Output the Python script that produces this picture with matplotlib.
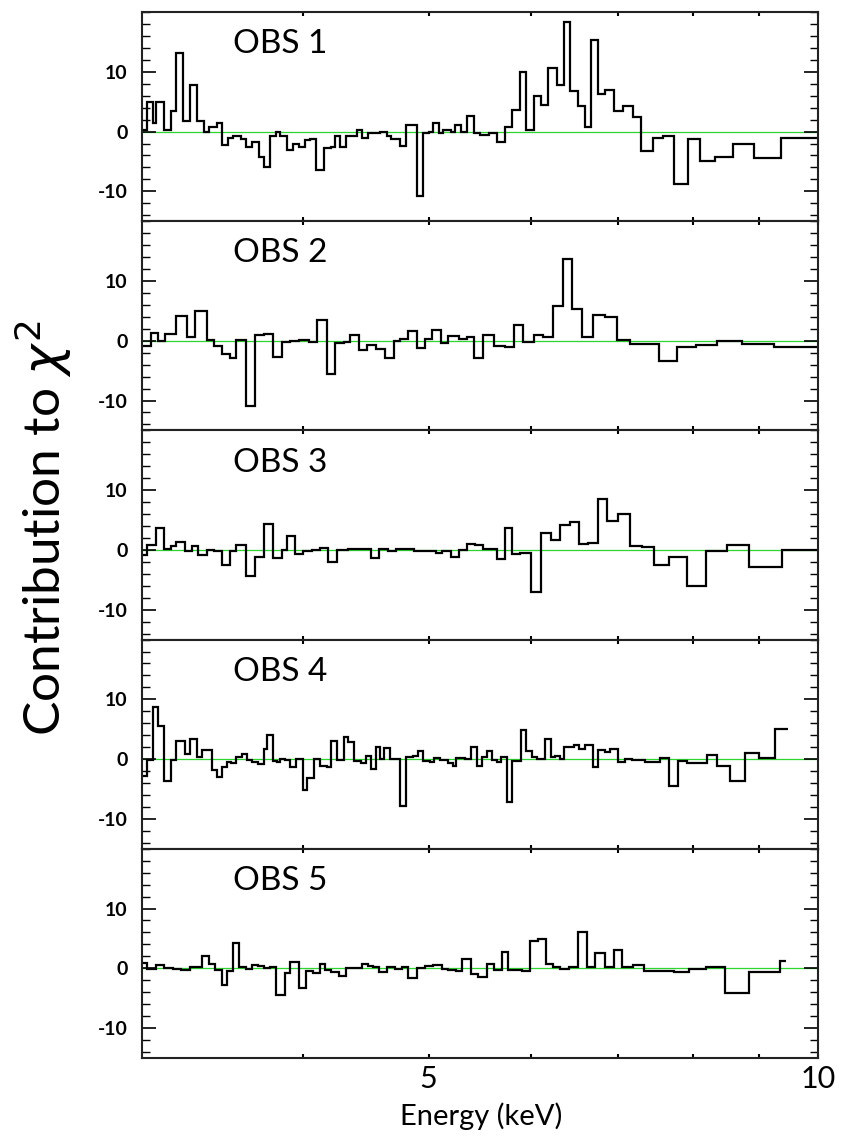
import matplotlib.pyplot as plt
from matplotlib.ticker import MultipleLocator, NullFormatter

plt.rcParams['font.family'] = ['Lato', 'DejaVu Sans']

obs_names = ['OBS 1', 'OBS 2', 'OBS 3', 'OBS 4', 'OBS 5']

# bin edges (keV) and contribution to chi^2
edges1 = [3.01, 3.03, 3.06, 3.08, 3.12, 3.16, 3.19, 3.23, 3.27, 3.31,
          3.35, 3.38, 3.43, 3.46, 3.50, 3.53, 3.58, 3.61, 3.65, 3.70,
          3.73, 3.77, 3.81, 3.84, 3.89, 3.93, 3.97, 4.01, 4.05, 4.09,
          4.15, 4.20, 4.23, 4.27, 4.32, 4.40, 4.44, 4.49, 4.53, 4.59,
          4.64, 4.68, 4.75, 4.80, 4.90, 4.95, 5.00, 5.04, 5.09, 5.13,
          5.20, 5.24, 5.30, 5.35, 5.42, 5.48, 5.57, 5.65, 5.73, 5.80,
          5.88, 5.95, 6.03, 6.11, 6.19, 6.28, 6.36, 6.43, 6.52, 6.61,
          6.68, 6.76, 6.85, 6.96, 7.07, 7.19, 7.30, 7.45, 7.59, 7.74,
          7.93, 8.10, 8.33, 8.60, 8.92, 9.36, 9.99]
chi1 = [0.2, 4.9, 1.4, 5.0, 0.2, 3.4, 13.2, 1.8, 7.8, 1.8,
        0.0, 0.8, 1.5, -2.3, -1.1, -0.7, -1.3, -2.5, -1.8, -4.2,
        -5.9, -0.8, 0.0, -0.8, -3.1, -2.0, -2.5, -1.4, -1.3, -6.4,
        -2.8, -2.5, -0.8, -2.5, -0.8, 0.2, -1.0, -0.2, -0.3, -0.1,
        -0.8, -1.3, -2.4, 1.1, -10.8, -0.2, 0.0, 1.5, -0.2, 0.3,
        0.0, 1.1, 0.0, 2.6, -0.2, -0.5, -0.2, -1.7, 0.8, 3.6,
        9.9, 0.2, 5.9, 4.5, 10.6, 7.8, 18.3, 6.8, 4.2, 0.8,
        15.4, 6.3, 6.9, 3.4, 4.3, 2.5, -3.2, -1.0, -0.8, -8.7,
        -1.3, -4.9, -4.2, -2.1, -4.5, -1.0]

edges2 = [3.01, 3.05, 3.09, 3.13, 3.19, 3.25, 3.30, 3.37, 3.41, 3.46,
          3.51, 3.55, 3.61, 3.67, 3.73, 3.79, 3.85, 3.91, 3.97, 4.04,
          4.10, 4.17, 4.23, 4.30, 4.35, 4.42, 4.48, 4.55, 4.63, 4.70,
          4.75, 4.82, 4.90, 4.97, 5.03, 5.11, 5.18, 5.28, 5.35, 5.42,
          5.51, 5.62, 5.73, 5.82, 5.92, 6.03, 6.13, 6.24, 6.35, 6.46,
          6.57, 6.70, 6.85, 6.99, 7.16, 7.54, 7.78, 8.05, 8.36, 8.73,
          9.25, 9.99]
chi2 = [-0.9, 1.3, -0.1, 1.1, 4.1, 0.6, 5.0, 0.2, -0.8, -2.2,
        -2.9, 0.2, -10.9, 1.0, 1.1, -2.8, -0.2, -0.1, 0.2, -0.2,
        3.4, -5.6, -0.3, -0.2, 1.0, -1.5, -0.7, -1.3, -2.9, -0.1,
        0.3, 1.7, -1.2, 0.3, 1.8, -0.3, 0.8, 0.3, 0.6, -2.9,
        0.9, -0.9, -1.1, 2.6, -0.2, 0.9, 0.6, 5.8, 13.7, 5.3,
        0.7, 4.3, 4.0, 0.2, -0.6, -3.4, -1.1, -0.7, -0.1, -0.6,
        -1.1]

edges3 = [3.01, 3.03, 3.08, 3.12, 3.16, 3.19, 3.24, 3.28, 3.32, 3.37,
          3.41, 3.46, 3.51, 3.55, 3.61, 3.67, 3.73, 3.79, 3.85, 3.89,
          3.94, 4.00, 4.06, 4.12, 4.18, 4.25, 4.33, 4.44, 4.51, 4.58,
          4.65, 4.72, 4.87, 4.92, 5.00, 5.07, 5.12, 5.20, 5.28, 5.35,
          5.43, 5.51, 5.65, 5.73, 5.80, 5.88, 6.00, 6.11, 6.22, 6.32,
          6.43, 6.54, 6.64, 6.76, 6.87, 7.01, 7.16, 7.31, 7.47, 7.67,
          7.92, 8.20, 8.50, 8.85, 9.38, 9.99]
chi3 = [-0.9, 0.9, 3.7, 0.1, 0.7, 1.4, -0.1, 0.6, -0.8, 0.0,
        -0.1, -2.6, -0.1, 0.8, -4.3, -1.1, 4.4, -1.4, 0.0, 2.3,
        -0.6, -0.1, 0.0, 0.4, -2.0, 0.0, 0.1, 0.2, -1.3, 0.2,
        -0.2, 0.2, -0.2, -0.1, -0.2, -0.5, -0.2, -1.1, 0.0, 1.0,
        0.8, 0.1, -1.5, 3.6, -0.7, -0.5, -7.1, 2.8, 1.6, 4.2,
        4.7, 1.0, 1.2, 8.5, 4.9, 6.0, 0.7, 0.5, -2.5, -1.1,
        -6.1, -0.1, 0.8, -2.8, 0.0]

edges4 = [3.01, 3.03, 3.06, 3.09, 3.12, 3.16, 3.19, 3.24, 3.27, 3.31,
          3.34, 3.40, 3.43, 3.46, 3.49, 3.52, 3.55, 3.59, 3.62, 3.65,
          3.69, 3.73, 3.75, 3.79, 3.82, 3.84, 3.87, 3.91, 3.95, 4.00,
          4.03, 4.08, 4.12, 4.17, 4.20, 4.25, 4.30, 4.33, 4.38, 4.43,
          4.47, 4.51, 4.55, 4.59, 4.62, 4.67, 4.71, 4.75, 4.80, 4.86,
          4.91, 4.95, 5.01, 5.05, 5.10, 5.18, 5.22, 5.25, 5.34, 5.39,
          5.45, 5.50, 5.55, 5.60, 5.65, 5.69, 5.75, 5.80, 5.89, 5.95,
          6.01, 6.07, 6.15, 6.22, 6.26, 6.32, 6.36, 6.48, 6.54, 6.61,
          6.70, 6.76, 6.84, 6.91, 7.01, 7.09, 7.18, 7.26, 7.35, 7.55,
          7.67, 7.79, 7.92, 8.03, 8.21, 8.36, 8.55, 8.78, 9.00, 9.27,
          9.48]
chi4 = [-2.8, -0.2, 8.8, 5.5, -3.7, -0.1, 3.0, 0.9, 3.3, 0.4,
        1.5, -1.8, -3.0, -1.3, -0.4, -0.7, 0.3, 0.9, -0.1, -0.4,
        -0.8, 1.7, 4.0, -0.3, -0.5, 0.1, -0.2, -1.4, 0.1, -5.2,
        -3.2, 0.0, -1.1, -1.3, 3.0, -0.2, 3.7, 2.8, -0.3, -0.6,
        0.6, -1.7, 2.0, 0.0, 1.8, 0.0, 0.1, -7.9, 0.4, 0.6,
        1.3, -0.3, -0.4, 0.2, -0.1, -0.6, -1.2, 0.2, 0.0, 2.1,
        -1.1, 0.3, 1.3, -0.2, -0.4, 0.3, -7.1, -0.3, 4.9, 1.3,
        0.4, 0.1, 3.4, 0.3, 0.6, 0.0, 2.0, 2.3, 1.7, 2.3,
        -1.3, 1.6, 1.2, 1.7, -0.4, 0.1, -0.1, -0.2, -0.4, 0.2,
        -4.5, -0.3, -0.6, -0.7, 0.7, -1.1, -3.6, 1.1, 0.2, 5.0]

edges5 = [3.00, 3.03, 3.08, 3.12, 3.17, 3.22, 3.27, 3.34, 3.38, 3.42,
          3.46, 3.49, 3.53, 3.57, 3.61, 3.65, 3.69, 3.73, 3.77, 3.81,
          3.87, 3.91, 3.97, 4.02, 4.07, 4.12, 4.16, 4.20, 4.26, 4.32,
          4.39, 4.44, 4.49, 4.53, 4.58, 4.64, 4.71, 4.77, 4.82, 4.90,
          4.97, 5.04, 5.12, 5.18, 5.25, 5.31, 5.39, 5.46, 5.55, 5.62,
          5.70, 5.76, 5.82, 5.91, 5.99, 6.08, 6.16, 6.24, 6.32, 6.42,
          6.52, 6.63, 6.72, 6.84, 6.95, 7.06, 7.20, 7.34, 7.55, 7.74,
          7.95, 8.19, 8.47, 8.85, 9.35, 9.44]
chi5 = [0.9, -0.1, 0.6, 0.0, -0.1, -0.2, 0.3, 2.0, 0.8, -0.3,
        -2.8, -0.4, 4.2, 0.3, -0.1, 0.6, 0.4, 0.1, 0.3, -4.4,
        -0.8, 1.1, -3.3, -0.4, -0.8, 0.7, -0.2, -0.6, -1.3, 0.1,
        0.0, 0.7, 0.4, 0.2, -0.6, 0.2, -0.1, 0.2, -1.7, 0.1,
        0.4, 0.6, -0.1, -0.2, -0.4, 1.6, -1.0, -1.5, 0.8, -0.2,
        2.7, -0.3, -0.2, -0.5, 4.5, 4.9, 0.7, 0.3, -0.1, 0.3,
        6.1, 0.3, 2.5, 0.3, 3.1, 0.2, 0.6, -0.4, -0.5, -0.6,
        -0.1, 0.3, -4.1, -0.7, 1.2]

all_edges = [edges1, edges2, edges3, edges4, edges5]
all_chi = [chi1, chi2, chi3, chi4, chi5]

fig, axes = plt.subplots(5, 1, sharex=True, figsize=(8.45, 11.36), dpi=100)
fig.subplots_adjust(left=0.1675, right=0.968, bottom=0.0687, top=0.9894, hspace=0)

for ax, name, e, c in zip(axes, obs_names, all_edges, all_chi):
    ax.axhline(0, color='#2ed52e', lw=0.9, zorder=1)
    ax.stairs(c, e, baseline=None, color='black', lw=1.6, zorder=2)
    ax.set_xscale('log')
    ax.set_xlim(3, 10)
    ax.set_ylim(-15, 20)
    ax.set_xticks([5, 10], ['5', '10'])
    ax.set_xticks([4, 6, 7, 8, 9], minor=True)
    ax.xaxis.set_minor_formatter(NullFormatter())
    ax.set_yticks([-10, 0, 10], ['-10', '0', '10'])
    ax.yaxis.set_minor_locator(MultipleLocator(2))
    ax.tick_params(which='both', direction='in', top=True, right=True)
    ax.tick_params(axis='y', which='major', length=10, width=1.2,
                   labelsize=14, pad=10)
    ax.tick_params(axis='y', which='minor', length=6, width=1)
    ax.tick_params(axis='x', which='both', length=3, width=1.5)
    for lab in ax.get_yticklabels():
        lab.set_fontweight('bold')
    for s in ax.spines.values():
        s.set_linewidth(1.5)
        s.set_color('#222222')
    ax.text(0.135, 0.846, name, transform=ax.transAxes, fontsize=24,
            va='center', ha='left')

axes[-1].tick_params(axis='x', which='major', labelsize=22, pad=5)

fig.text(0.570, 0.017, 'Energy (keV)', fontsize=21, ha='center', va='center')
fig.text(0.051, 0.535, 'Contribution to $\\chi^2$', fontsize=37,
         rotation=90, ha='center', va='center')

fig.savefig('out.png', dpi=100)
